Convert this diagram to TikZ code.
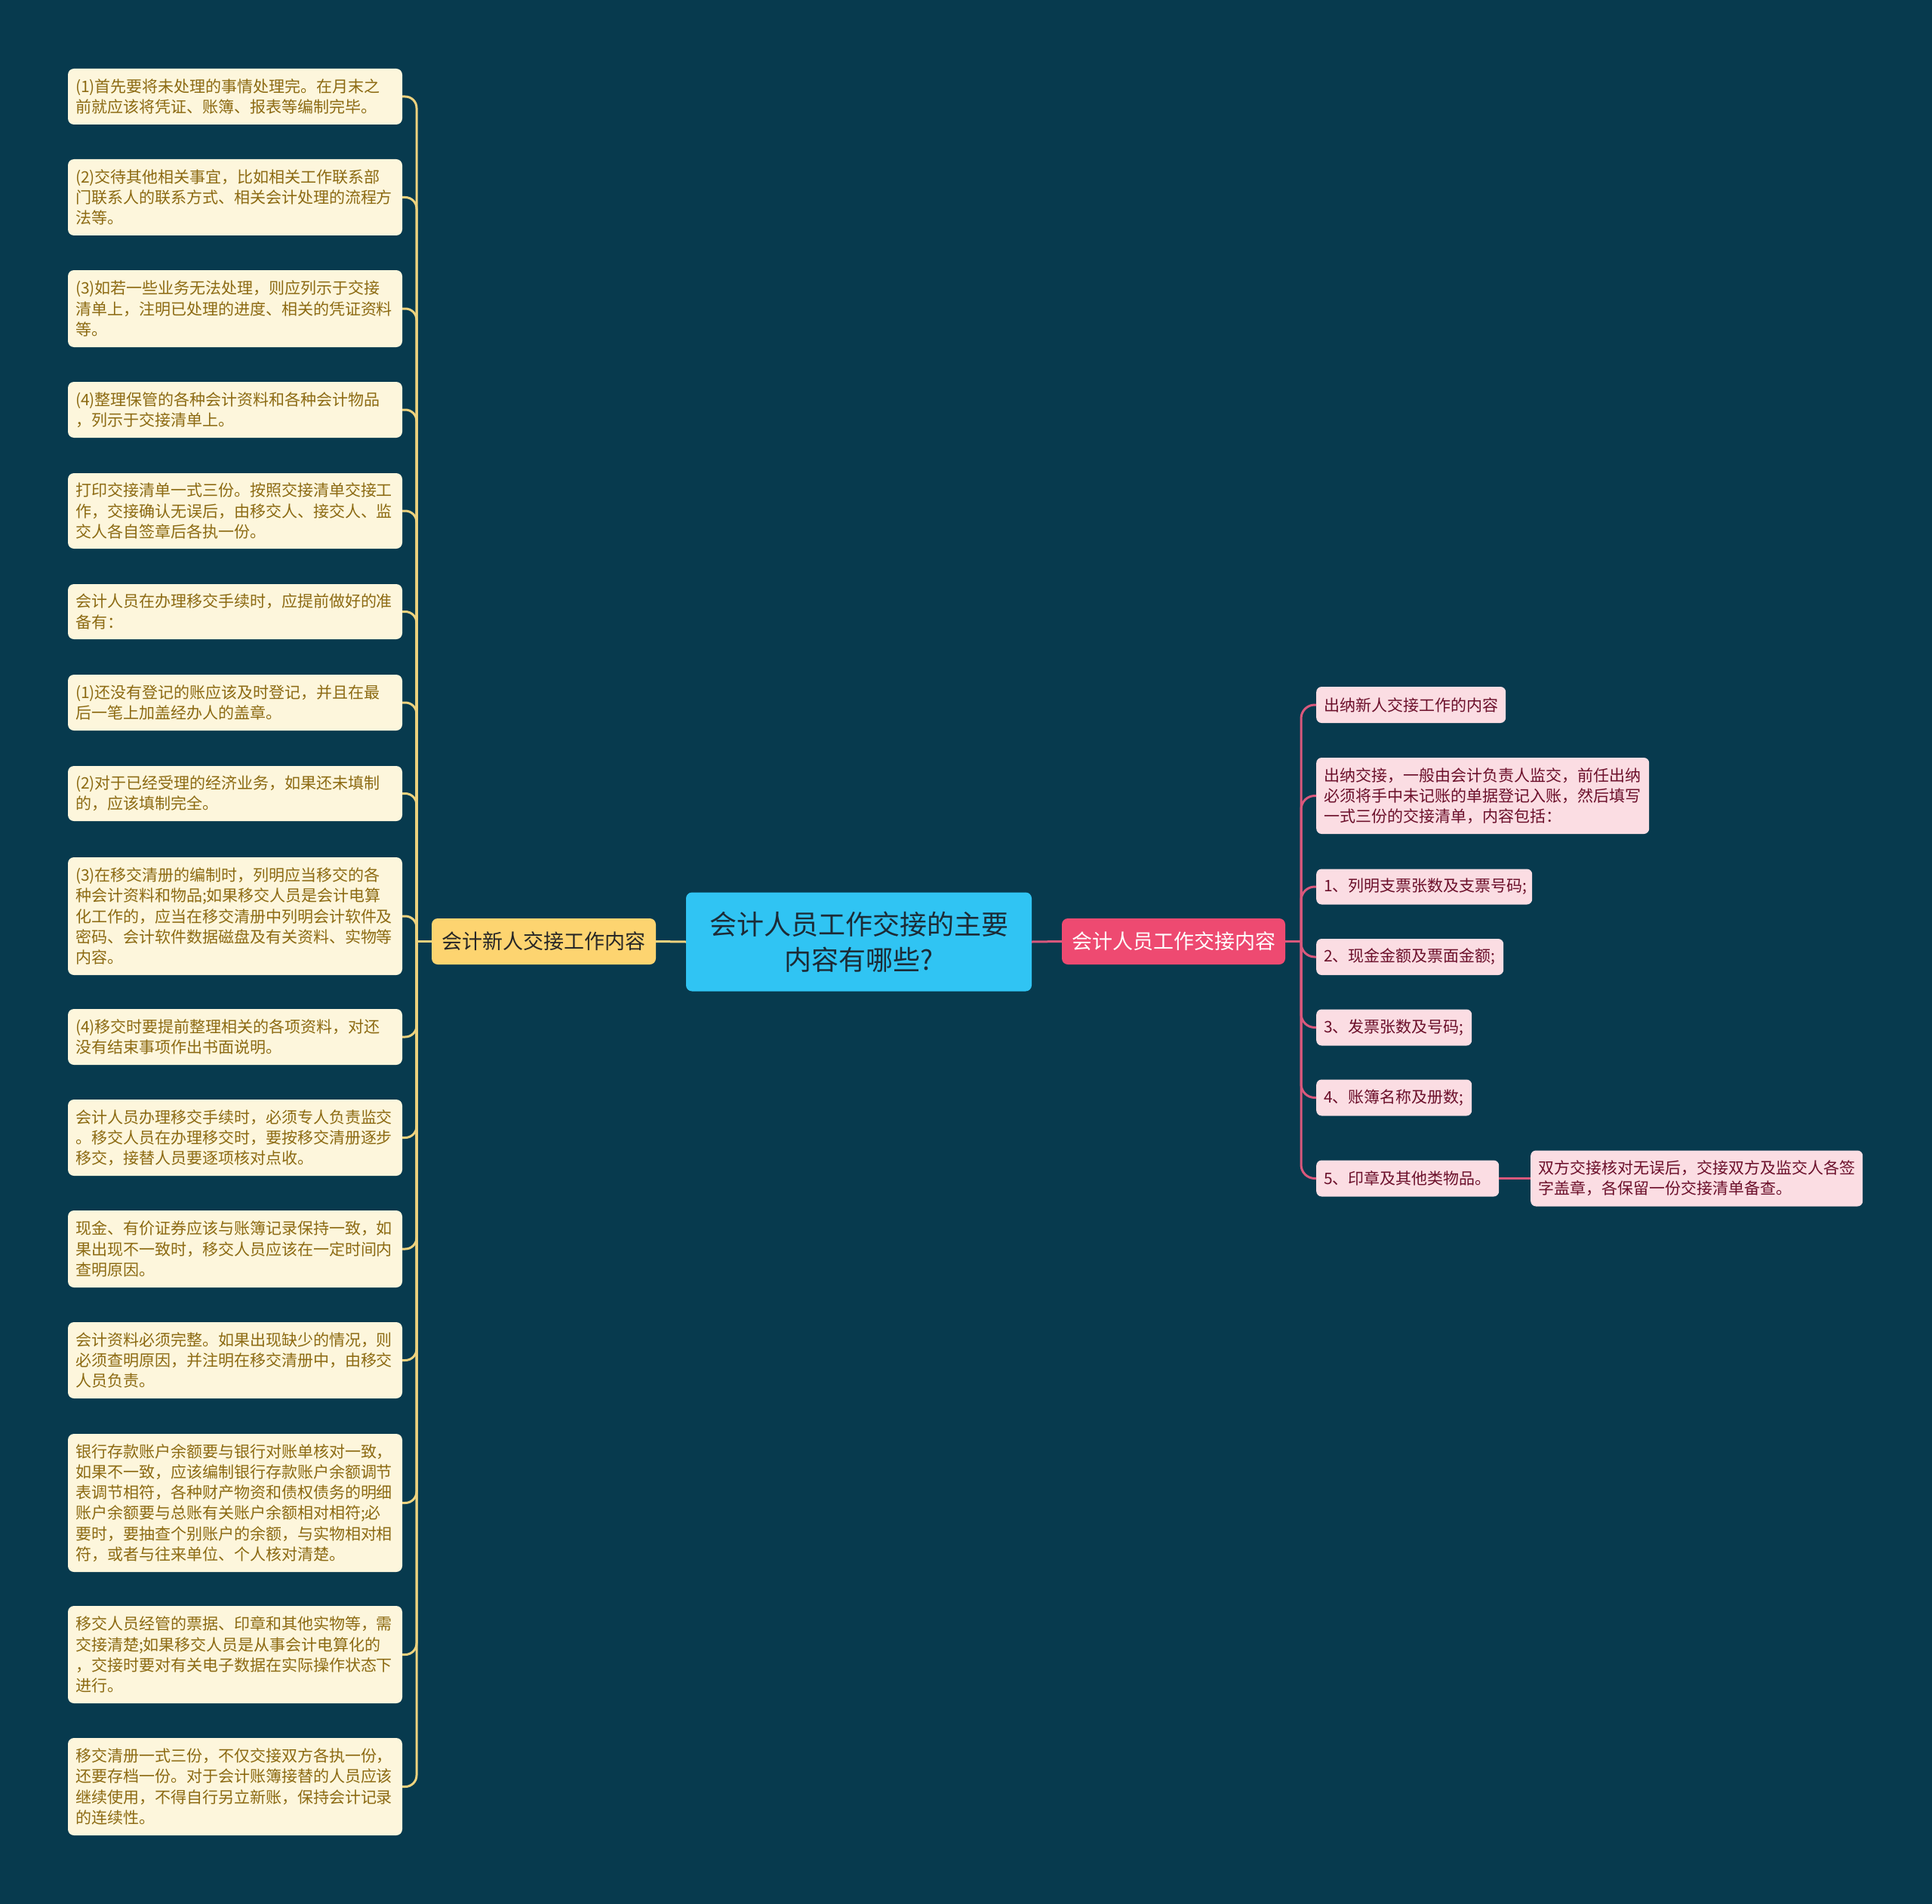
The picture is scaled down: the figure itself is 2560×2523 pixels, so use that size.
\documentclass[tikz,border=0pt]{standalone}
\usepackage{fontspec}
\setmainfont{Noto Sans CJK SC}
\definecolor{bg}{HTML}{073A4E}
\definecolor{cream}{HTML}{FDF6DC}
\definecolor{goldtxt}{HTML}{8C6A12}
\definecolor{yline}{HTML}{EDD27E}
\definecolor{ynode}{HTML}{FDD470}
\definecolor{cnode}{HTML}{30C4F3}
\definecolor{ctxt}{HTML}{1C2B36}
\definecolor{pnode}{HTML}{EE4A71}
\definecolor{pline}{HTML}{D9587C}
\definecolor{plight}{HTML}{FBDDE3}
\definecolor{ptxt}{HTML}{6B0F2A}
\tikzset{
  lbox/.style={fill=cream, text=goldtxt, rounded corners=8pt,
    font=\fontsize{21}{27.2}\selectfont, text width=423pt,
    inner xsep=10pt, inner ysep=0pt, align=left},
  rbox/.style={fill=plight, text=ptxt, rounded corners=7pt,
    font=\fontsize{21}{27.2}\selectfont,
    inner xsep=10pt, inner ysep=0pt, align=left, anchor=west},
  yconn/.style={draw=yline, line width=3pt, rounded corners=15pt},
  pconn/.style={draw=pline, line width=3pt, rounded corners=18pt},
}
\begin{document}
\begin{tikzpicture}[x=1pt,y=-1pt]
\useasboundingbox (0,0) rectangle (2560,2523);
\fill[bg] (0,0) rectangle (2560,2523);

% central
\node[fill=cnode, text=ctxt, rounded corners=8pt, minimum width=458pt, minimum height=131pt,
  inner sep=0pt, align=center, font=\fontsize{36}{47}\selectfont] (c) at (1138,1248)
  {会计人员工作交接的主要\\内容有哪些?};
\node[fill=ynode, text=black!85, rounded corners=8pt, minimum width=297pt, minimum height=61pt,
  inner sep=0pt, font=\fontsize{27}{32}\selectfont] (y) at (720.5,1247.5) {会计新人交接工作内容};
\node[fill=pnode, text=white, rounded corners=8pt, minimum width=296pt, minimum height=61pt,
  inner sep=0pt, font=\fontsize{27}{32}\selectfont] (p) at (1555,1247.5) {会计人员工作交接内容};

% left boxes
\node[lbox, minimum height=74pt] (l1) at (311.5,128) {(1)首先要将未处理的事情处理完。在月末之\\前就应该将凭证、账簿、报表等编制完毕。};
\node[lbox, minimum height=101pt] (l2) at (311.5,261.5) {(2)交待其他相关事宜，比如相关工作联系部\\门联系人的联系方式、相关会计处理的流程方\\法等。};
\node[lbox, minimum height=102pt] (l3) at (311.5,409) {(3)如若一些业务无法处理，则应列示于交接\\清单上，注明已处理的进度、相关的凭证资料\\等。};
\node[lbox, minimum height=74pt] (l4) at (311.5,543) {(4)整理保管的各种会计资料和各种会计物品\\，列示于交接清单上。};
\node[lbox, minimum height=100pt] (l5) at (311.5,677) {打印交接清单一式三份。按照交接清单交接工\\作，交接确认无误后，由移交人、接交人、监\\交人各自签章后各执一份。};
\node[lbox, minimum height=73pt] (l6) at (311.5,810.5) {会计人员在办理移交手续时，应提前做好的准\\备有：};
\node[lbox, minimum height=74pt] (l7) at (311.5,931) {(1)还没有登记的账应该及时登记，并且在最\\后一笔上加盖经办人的盖章。};
\node[lbox, minimum height=73pt] (l8) at (311.5,1051.5) {(2)对于已经受理的经济业务，如果还未填制\\的，应该填制完全。};
\node[lbox, minimum height=156pt] (l9) at (311.5,1214) {(3)在移交清册的编制时，列明应当移交的各\\种会计资料和物品;如果移交人员是会计电算\\化工作的，应当在移交清册中列明会计软件及\\密码、会计软件数据磁盘及有关资料、实物等\\内容。};
\node[lbox, minimum height=74pt] (l10) at (311.5,1374) {(4)移交时要提前整理相关的各项资料，对还\\没有结束事项作出书面说明。};
\node[lbox, minimum height=101pt] (l11) at (311.5,1507.5) {会计人员办理移交手续时，必须专人负责监交\\。移交人员在办理移交时，要按移交清册逐步\\移交，接替人员要逐项核对点收。};
\node[lbox, minimum height=102pt] (l12) at (311.5,1655) {现金、有价证券应该与账簿记录保持一致，如\\果出现不一致时，移交人员应该在一定时间内\\查明原因。};
\node[lbox, minimum height=101pt] (l13) at (311.5,1802.5) {会计资料必须完整。如果出现缺少的情况，则\\必须查明原因，并注明在移交清册中，由移交\\人员负责。};
\node[lbox, minimum height=183pt] (l14) at (311.5,1991.5) {银行存款账户余额要与银行对账单核对一致，\\如果不一致，应该编制银行存款账户余额调节\\表调节相符，各种财产物资和债权债务的明细\\账户余额要与总账有关账户余额相对相符;必\\要时，要抽查个别账户的余额，与实物相对相\\符，或者与往来单位、个人核对清楚。};
\node[lbox, minimum height=129pt] (l15) at (311.5,2192.5) {移交人员经管的票据、印章和其他实物等，需\\交接清楚;如果移交人员是从事会计电算化的\\，交接时要对有关电子数据在实际操作状态下\\进行。};
\node[lbox, minimum height=129pt] (l16) at (311.5,2367.5) {移交清册一式三份，不仅交接双方各执一份，\\还要存档一份。对于会计账簿接替的人员应该\\继续使用，不得自行另立新账，保持会计记录\\的连续性。};

% right boxes
\node[rbox, text width=231pt, minimum height=48pt] (r1) at (1744,934) {出纳新人交接工作的内容};
\node[rbox, text width=421pt, minimum height=101pt] (r2) at (1744,1054.5) {出纳交接，一般由会计负责人监交，前任出纳\\必须将手中未记账的单据登记入账，然后填写\\一式三份的交接清单，内容包括：};
\node[rbox, text width=266pt, minimum height=47pt] (r3) at (1744,1175) {1、列明支票张数及支票号码;};
\node[rbox, text width=228pt, minimum height=48pt] (r4) at (1744,1268) {2、现金金额及票面金额;};
\node[rbox, text width=186pt, minimum height=48pt] (r5) at (1744,1361.5) {3、发票张数及号码;};
\node[rbox, text width=186pt, minimum height=48pt] (r6) at (1744,1454.5) {4、账簿名称及册数;};
\node[rbox, text width=222pt, minimum height=48pt] (r7) at (1744,1561.5) {5、印章及其他类物品。};
\node[rbox, text width=420pt, minimum height=74pt] (r8) at (2028,1561.5) {双方交接核对无误后，交接双方及监交人各签\\字盖章，各保留一份交接清单备查。};

% connectors
\coordinate (jl) at (552,1247.5);
\coordinate (jr) at (1724,1247.5);
\draw[yconn] (y.east) -- (c.west);
\draw[yconn] (y.west) -- (jl);
\foreach \n in {1,...,16} { \draw[yconn] (jl) |- (l\n.east); }
\draw[pconn] (c.east) -- (p.west);
\draw[pconn] (p.east) -- (jr);
\foreach \n in {1,...,7} { \draw[pconn] (jr) |- (r\n.west); }
\draw[pconn] (r7.east) -- (r8.west);
\end{tikzpicture}
\end{document}
